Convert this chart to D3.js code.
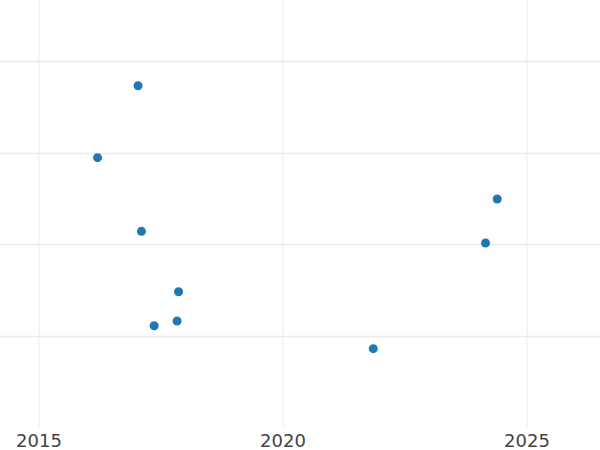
<!DOCTYPE html>
<html><head><meta charset="utf-8">
<script src="https://cdn.jsdelivr.net/npm/d3@7"></script>
<style>body{margin:0;background:#fff}svg{display:block}</style>
</head><body>
<svg id="c" width="600" height="450"></svg>
<script>
const xValues = [2017.04, 2016.21, 2024.40, 2017.11, 2024.16, 2017.87, 2017.84, 2017.37, 2021.86];
const yValues = [3.73, 2.945, 2.495, 2.142, 2.015, 1.483, 1.164, 1.112, 0.862];
const xTicks = [2015, 2020, 2025];
const yTicks = [1, 2, 3, 4];

const W = 600, H = 450, plotBottom = 427;
const svg = d3.select("#c");
const x = d3.scaleLinear().domain([2014.211, 2026.506]).range([0, W]);
const y = d3.scaleLinear().domain([0.0075, 4.665]).range([plotBottom, 0]);

svg.append("g").selectAll("line").data(yTicks).join("line")
  .attr("x1", 0).attr("x2", W)
  .attr("y1", d => Math.round(y(d)) + 0.5).attr("y2", d => Math.round(y(d)) + 0.5)
  .attr("stroke", "#ebebeb").attr("stroke-width", 1.5);

const xa = d3.axisBottom(x).tickValues(xTicks).tickFormat(d3.format("d")).tickSize(plotBottom);
const gx = svg.append("g").call(xa);
gx.select(".domain").remove();
gx.selectAll(".tick line").attr("stroke", "#ebebeb");
gx.selectAll(".tick text").attr("fill", "#444").style("font-family", "'DejaVu Sans', sans-serif").style("font-size", "18px").attr("dy", null).attr("y", 447);

svg.append("g").selectAll("circle").data(xValues.map((v, i) => [v, yValues[i]])).join("circle")
  .attr("cx", d => x(d[0])).attr("cy", d => y(d[1])).attr("r", 4.5).attr("fill", "#1f77b4");
</script>
</body></html>
